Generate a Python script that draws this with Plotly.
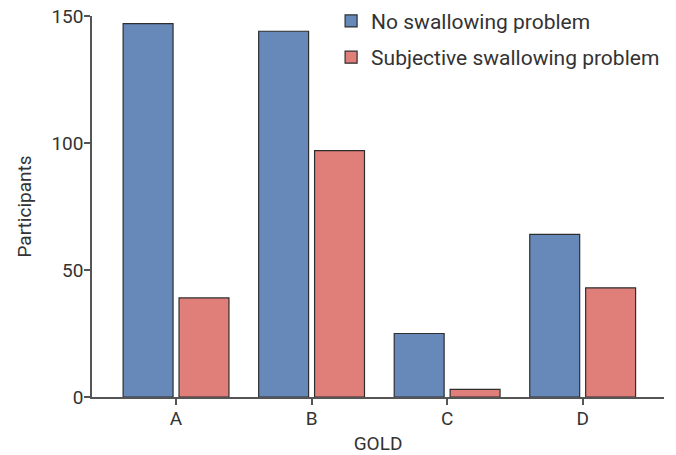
import plotly.graph_objects as go

categories = ["A", "B", "C", "D"]
no_problem = [147, 144, 25, 64]
subjective_problem = [39, 97, 3, 43]
y_ticks = [0, 50, 100, 150]

fig = go.Figure()
fig.add_trace(go.Bar(
    x=categories, y=no_problem, name="No swallowing problem",
    marker=dict(color="#6689BA", line=dict(color="#2e2e2e", width=1.2)),
    legendgroup="g1",
))
fig.add_trace(go.Bar(
    x=categories, y=subjective_problem, name="Subjective swallowing problem",
    marker=dict(color="#E07F79", line=dict(color="#2e2e2e", width=1.2)),
    legendgroup="g2",
))

fig.update_layout(
    width=676, height=455,
    margin=dict(l=92, r=12, t=16, b=58, autoexpand=False),
    paper_bgcolor="white", plot_bgcolor="white",
    barmode="group", bargap=0.175, bargroupgap=0.107,
    font=dict(family="Roboto, DejaVu Sans, sans-serif", size=19, color="#333333"),
    showlegend=True,
    legend=dict(
        x=0.418, y=1.04, xanchor="left", yanchor="top",
        font=dict(size=21, color="#333333"),
        traceorder="grouped", tracegroupgap=6,
        bgcolor="rgba(0,0,0,0)",
    ),
)
fig.update_xaxes(
    range=[-0.62, 3.6], showline=True, linecolor="#555555", linewidth=1.5,
    ticks="outside", ticklen=6, tickcolor="#555555", tickwidth=1.5,
    showgrid=False, zeroline=False, automargin=False,
    title=dict(text="GOLD", font=dict(size=19), standoff=10),
    tickfont=dict(size=19), ticklabelstandoff=-3, ticklabeloverflow="allow",
)
fig.update_yaxes(
    range=[0, 150], tickvals=y_ticks, showline=True, linecolor="#555555", linewidth=1.5,
    ticks="outside", ticklen=6, tickcolor="#555555", tickwidth=1.5,
    showgrid=False, zeroline=False, automargin=False,
    title=dict(text="Participants", font=dict(size=19), standoff=15),
    tickfont=dict(size=19), ticklabelstandoff=-3, ticklabeloverflow="allow",
)

fig.write_html(
    "out.html",
    config={"displayModeBar": False},
    post_script="document.body.style.margin='0';document.body.style.overflow='hidden';",
)
